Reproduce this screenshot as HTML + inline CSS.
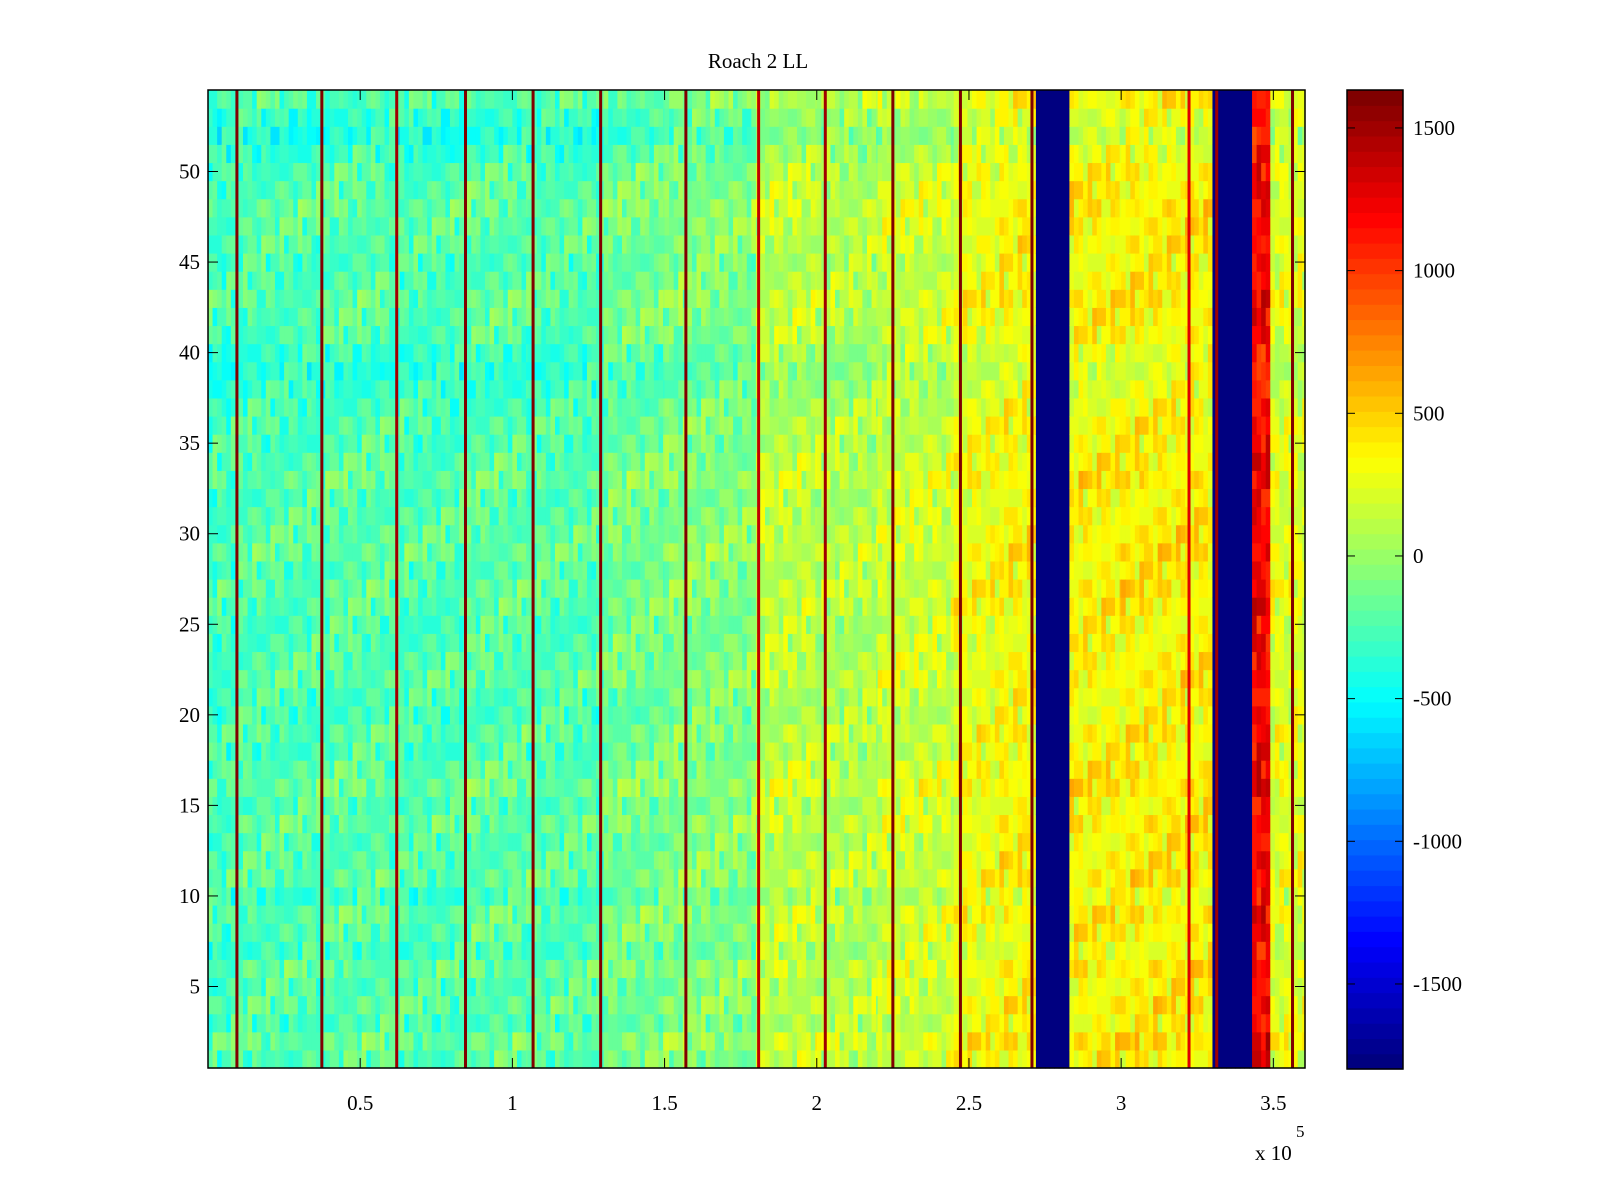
<!DOCTYPE html>
<html><head><meta charset="utf-8"><style>
body{margin:0;background:#fff;}
svg{display:block;font-family:"Liberation Serif",serif;}
</style></head><body>
<svg id="fig" width="1600" height="1200" viewBox="0 0 1600 1200">
<text x="758" y="68" font-size="21" text-anchor="middle">Roach 2 LL</text>
<g id="heat"></g>
<g id="cbar"></g>
<g id="axes"></g>
</svg>
<script>
// ---- data ----
const xMin = 0, xMax = 3.604e5, yMin = 0.5, yMax = 54.5, cMin = -1798, cMax = 1633;
const bandStarts = [0,0.1e5,0.4e5,0.6e5,0.85e5,1.05e5,1.3e5,1.5e5,1.8e5,2.0e5,2.2e5,2.45e5,2.6e5,2.72e5,2.83e5,3.0e5,3.3e5,3.43e5,3.49e5];
const bandEnds   = [0.1e5,0.4e5,0.6e5,0.85e5,1.05e5,1.3e5,1.5e5,1.8e5,2.0e5,2.2e5,2.45e5,2.6e5,2.72e5,2.83e5,3.0e5,3.3e5,3.43e5,3.49e5,3.604e5];
const bandValues = [-280,-240,-220,-250,-210,-230,-130,-80,120,80,170,280,330,-1798,340,360,-1798,1200,230];
const rowOffsets = [0,60,-40,20,-20,40,-60,0,30,-80,20,0,-20,40,-20,60,20,-40,0,-60,-40,20,0,-20,-40,0,20,-20,40,20,0,-20,40,0,-40,-20,-60,-100,-140,-100,-20,0,20,-20,-40,0,20,40,0,-20,-100,-180,-120,-20];
const texture = [60,-120,200,-40,140,-200,20,260,-90,110,-160,40,300,-60,-240,90,170,-20,-130,230,-80,10,150,-190,70,-50,210,-140,30,120,-230,80,-10];
const lineX = [0.095e5,0.374e5,0.62e5,0.846e5,1.068e5,1.29e5,1.57e5,1.809e5,2.028e5,2.25e5,2.472e5,2.707e5,3.223e5,3.314e5,3.563e5];
const lineValues = [1633,1633,1500,1633,1633,1633,1633,1400,1500,1633,1633,1633,1300,1500,1633];
const xTickVals = [0.5e5,1e5,1.5e5,2e5,2.5e5,3e5,3.5e5];
const xTickLabels = ["0.5","1","1.5","2","2.5","3","3.5"];
const yTickVals = [5,10,15,20,25,30,35,40,45,50];
const cTickVals = [-1500,-1000,-500,0,500,1000,1500];

// ---- geometry ----
const L=208,R=1305,T=90,B=1068, CL=1347,CR=1403,CT=90,CB=1069;
const sx=v=>L+(v-xMin)/(xMax-xMin)*(R-L);
const sy=v=>T+(yMax-v)/(yMax-yMin)*(B-T);
const sc=v=>CT+(cMax-v)/(cMax-cMin)*(CB-CT);
function jet(t){t=Math.max(0,Math.min(1,t));t=Math.floor(t*63.999)/63;
 const f=x=>Math.round(255*Math.max(0,Math.min(1,1.5-Math.abs(4*t-x))));
 return `rgb(${f(3)},${f(2)},${f(1)})`;}
const col=v=>jet((v-cMin)/(cMax-cMin));
const NS="http://www.w3.org/2000/svg";
function mk(tag,attrs,parent){const e=document.createElementNS(NS,tag);for(const k in attrs)e.setAttribute(k,attrs[k]);parent.appendChild(e);return e;}
const heat=document.getElementById('heat');
const step=1500;
for(let b=0;b<bandStarts.length;b++){
 for(let x0=bandStarts[b];x0<bandEnds[b];x0+=step){
  const x1=Math.min(x0+step,bandEnds[b]);
  for(let r=0;r<rowOffsets.length;r++){
   const row=r+1;
   let v=bandValues[b];
   if(v>-1700){v+=rowOffsets[r]+0.8*texture[(Math.round(x0/step)*7+r*5)%texture.length];}
   const e=mk('rect',{x:sx(x0),y:sy(row+0.5),width:sx(x1)-sx(x0)+0.6,height:sy(row-0.5)-sy(row+0.5)+0.6,fill:col(v)},heat);
   
   
  }
 }
}
lineX.forEach((x,i)=>{
 const e=mk('rect',{x:sx(x)-1.5,y:T,width:3,height:B-T,fill:col(lineValues[i])},heat);
 
 
});
const ax=document.getElementById('axes');
const fr=mk('rect',{x:L,y:T,width:R-L,height:B-T,fill:'none',stroke:'#000','stroke-width':1.5},ax);


xTickVals.forEach((v,i)=>{
 const x=sx(v);
 mk('line',{x1:x,x2:x,y1:B,y2:B-10,stroke:'#000'},ax);
 mk('line',{x1:x,x2:x,y1:T,y2:T+10,stroke:'#000'},ax);
 const t=mk('text',{x:x,y:1110,'font-size':21,'text-anchor':'middle'},ax);t.textContent=xTickLabels[i];
 
 
});
yTickVals.forEach(v=>{
 const y=sy(v);
 mk('line',{x1:L,x2:L+10,y1:y,y2:y,stroke:'#000'},ax);
 mk('line',{x1:R,x2:R-10,y1:y,y2:y,stroke:'#000'},ax);
 const t=mk('text',{x:200,y:y+7,'font-size':21,'text-anchor':'end'},ax);t.textContent=v;
 
 
});
const ex=mk('text',{x:1255,y:1160,'font-size':21},ax);ex.textContent='x 10';


const ex2=mk('text',{x:1296,y:1137,'font-size':17},ax);ex2.textContent='5';


// colorbar
const cb=document.getElementById('cbar');
for(let i=0;i<64;i++){
 const y0=CB-(i+1)*(CB-CT)/64;
 const e=mk('rect',{x:CL,y:y0,width:CR-CL,height:(CB-CT)/64+0.6,fill:jet(i/63)},cb);
 
 
}
const cf=mk('rect',{x:CL,y:CT,width:CR-CL,height:CB-CT,fill:'none',stroke:'#000','stroke-width':1.5},cb);


cTickVals.forEach(v=>{
 const y=sc(v);
 mk('line',{x1:CL,x2:CL+8,y1:y,y2:y,stroke:'#000'},cb);
 mk('line',{x1:CR,x2:CR-8,y1:y,y2:y,stroke:'#000'},cb);
 const t=mk('text',{x:1413,y:y+7,'font-size':21},cb);t.textContent=v;
 
 
});
</script>
</body></html>
